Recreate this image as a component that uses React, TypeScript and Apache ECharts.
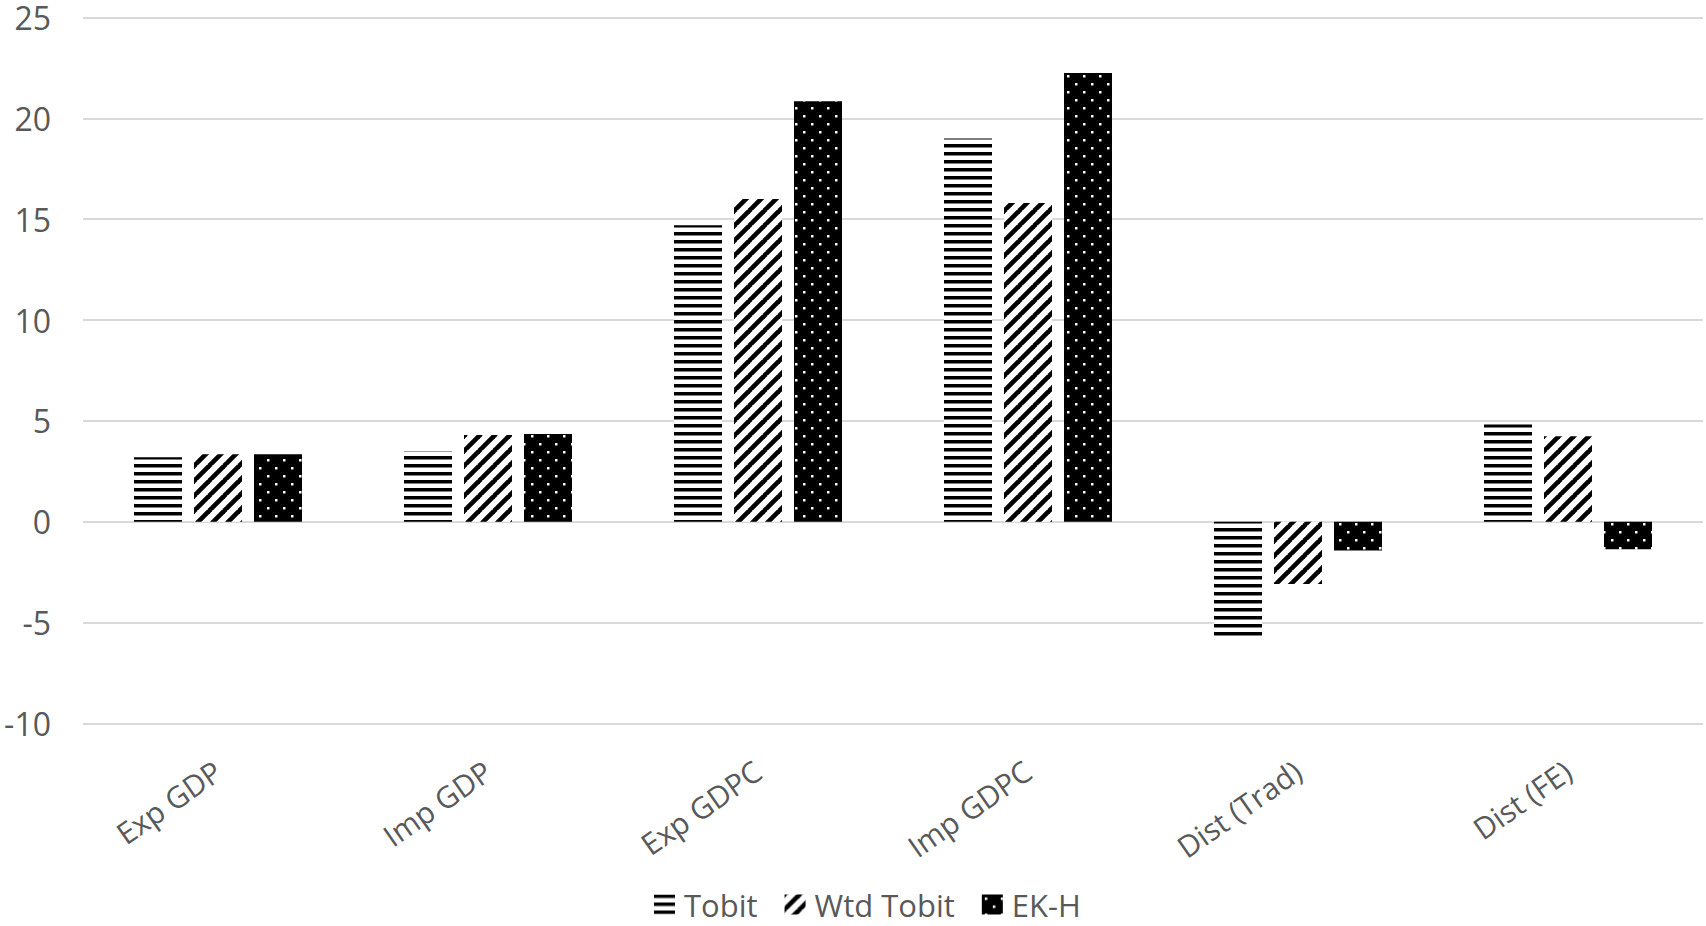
import React, { useEffect, useRef } from "react";
import * as echarts from "echarts";

// Categories and coefficient estimates for the three estimators
const categories = ["Exp GDP", "Imp GDP", "Exp GDPC", "Imp GDPC", "Dist (Trad)", "Dist (FE)"];
const tobit = [3.2, 3.5, 14.7, 19.0, -5.68, 4.82];
const wtdTobit = [3.35, 4.3, 16.0, 15.8, -3.08, 4.24];
const ekH = [3.35, 4.35, 20.85, 22.25, -1.42, -1.36];
const yTicks = { min: -10, max: 25, interval: 5 };

const FONT = "'Open Sans', 'Noto Sans', sans-serif";
const TEXT_COLOR = "#595959";

// Builds a repeating black-and-white fill tile and returns it as a data URL
function makeTile(kind: "hstripe" | "diag" | "dots") {
  const c = document.createElement("canvas");
  let size = 8;
  if (kind === "diag") size = 15;
  if (kind === "dots") size = 16;
  c.width = size;
  c.height = size;
  const ctx = c.getContext("2d")!;
  if (kind === "hstripe") {
    ctx.fillStyle = "#ffffff";
    ctx.fillRect(0, 0, size, size);
    ctx.fillStyle = "#000000";
    ctx.fillRect(0, 0, size, 3.5);
  } else if (kind === "diag") {
    ctx.fillStyle = "#ffffff";
    ctx.fillRect(0, 0, size, size);
    ctx.strokeStyle = "#000000";
    ctx.lineWidth = 4.6;
    for (const k of [-size, 0, size]) {
      ctx.beginPath();
      ctx.moveTo(k - 1, size + 1);
      ctx.lineTo(k + size + 1, -1);
      ctx.stroke();
    }
  } else {
    ctx.fillStyle = "#000000";
    ctx.fillRect(0, 0, size, size);
    ctx.fillStyle = "#ffffff";
    ctx.fillRect(3, 3, 2.5, 2.5);
    ctx.fillRect(11, 11, 2.5, 2.5);
  }
  return { image: c.toDataURL(), repeat: "repeat", imageWidth: size, imageHeight: size } as any;
}

export default function App() {
  const ref = useRef<HTMLDivElement>(null);

  useEffect(() => {
    if (!ref.current) return;
    const chart = echarts.init(ref.current, null, { renderer: "svg" });
    const fills = {
      tobit: makeTile("hstripe"),
      wtd: makeTile("diag"),
      ek: makeTile("dots"),
    };
    const barSeries = (name: string, data: number[], color: any) => ({
      name,
      type: "bar",
      data,
      barWidth: 48,
      barGap: "25%",
      itemStyle: { color },
    });

    chart.setOption({
      animation: false,
      backgroundColor: "#ffffff",
      textStyle: { fontFamily: FONT },
      grid: { left: 83, right: 3, top: 17.4, bottom: 202.4, containLabel: false },
      legend: {
        left: 654,
        top: 889,
        padding: 0,
        itemWidth: 21,
        itemHeight: 20,
        itemGap: 27,
        icon: "rect",
        textStyle: {
          fontFamily: FONT,
          fontSize: 31,
          lineHeight: 28,
          color: TEXT_COLOR,
          padding: [0, 0, 0, 4],
        },
        data: ["Tobit", "Wtd Tobit", "EK-H"],
      },
      xAxis: {
        type: "category",
        data: categories,
        axisLine: { show: false, onZero: false },
        axisTick: { show: false },
        splitLine: { show: false },
        axisLabel: {
          interval: 0,
          rotate: 35,
          margin: 44,
          fontFamily: FONT,
          fontSize: 30,
          color: TEXT_COLOR,
        },
      },
      yAxis: {
        type: "value",
        min: yTicks.min,
        max: yTicks.max,
        interval: yTicks.interval,
        axisLine: { show: false },
        axisTick: { show: false },
        splitLine: { lineStyle: { color: "#d9d9d9", width: 2 } },
        axisLabel: {
          margin: 32,
          fontFamily: FONT,
          fontSize: 32,
          lineHeight: 30,
          color: TEXT_COLOR,
        },
      },
      series: [
        barSeries("Tobit", tobit, fills.tobit),
        barSeries("Wtd Tobit", wtdTobit, fills.wtd),
        barSeries("EK-H", ekH, fills.ek),
      ],
    });
    return () => chart.dispose();
  }, []);

  return (
    <div
      ref={ref}
      style={{ position: "fixed", left: 0, top: 0, width: 1706, height: 926, background: "#fff" }}
    />
  );
}
